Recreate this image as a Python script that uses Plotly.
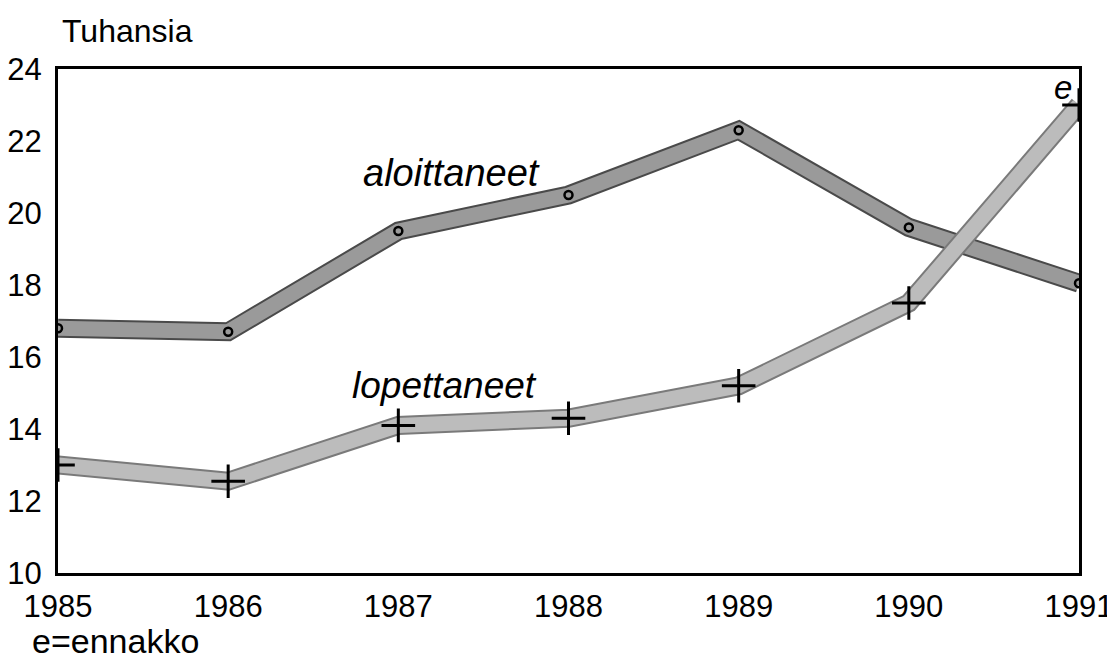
import plotly.graph_objects as go

years = [1985, 1986, 1987, 1988, 1989, 1990, 1991]
aloittaneet = [16.8, 16.7, 19.5, 20.5, 22.3, 19.6, 18.05]
lopettaneet = [13.0, 12.55, 14.1, 14.3, 15.2, 17.5, 23.0]
y_ticks = [10, 12, 14, 16, 18, 20, 22, 24]

FONT = "Liberation Sans, Arial, sans-serif"

fig = go.Figure()

# aloittaneet band
fig.add_trace(go.Scatter(x=years, y=aloittaneet, mode="lines",
                         line=dict(color="#4a4a4a", width=19), hoverinfo="skip"))
fig.add_trace(go.Scatter(x=years, y=aloittaneet, mode="lines",
                         line=dict(color="#9a9a9a", width=15), hoverinfo="skip"))
fig.add_trace(go.Scatter(x=years, y=aloittaneet, mode="markers",
                         marker=dict(symbol="circle-open", size=8, color="black",
                                     line=dict(width=2.5, color="black"))))

# lopettaneet band
fig.add_trace(go.Scatter(x=years, y=lopettaneet, mode="lines",
                         line=dict(color="#7a7a7a", width=19), hoverinfo="skip"))
fig.add_trace(go.Scatter(x=years, y=lopettaneet, mode="lines",
                         line=dict(color="#bcbcbc", width=15), hoverinfo="skip"))
fig.add_trace(go.Scatter(x=years, y=lopettaneet, mode="markers",
                         marker=dict(symbol="cross-thin", size=24, color="black",
                                     line=dict(width=3, color="black"))))

annos = [
    dict(x=1987.31, y=21.1, xref="x", yref="y", text="<i>aloittaneet</i>",
         font=dict(size=38, family=FONT, color="black"), showarrow=False),
    dict(x=1987.27, y=15.2, xref="x", yref="y", text="<i>lopettaneet</i>",
         font=dict(size=37, family=FONT, color="black"), showarrow=False),
    dict(x=1990.97, y=23.5, xref="x", yref="y", text="<i>e</i>", xanchor="right",
         font=dict(size=33, family=FONT, color="black"), showarrow=False),
    dict(x=0.002, y=1.075, xref="paper", yref="paper", text="Tuhansia",
         xanchor="left", yanchor="middle",
         font=dict(size=32, family=FONT, color="black"), showarrow=False),
    dict(x=-0.027, y=-0.135, xref="paper", yref="paper", text="e=ennakko",
         xanchor="left", yanchor="middle",
         font=dict(size=34, family=FONT, color="black"), showarrow=False),
]

fig.update_layout(
    width=1115, height=658,
    margin=dict(l=50, r=44, t=61, b=93),
    paper_bgcolor="white", plot_bgcolor="white",
    showlegend=False,
    annotations=annos,
    font=dict(family=FONT, size=31, color="black"),
)
fig.update_xaxes(range=[1985, 1991], tickvals=years, ticktext=[str(y) for y in years],
                 showgrid=False, zeroline=False, showline=True, linecolor="black",
                 linewidth=3, mirror=True, ticks="", ticklabelstandoff=4,
                 automargin=False,
                 tickfont=dict(size=31, family=FONT, color="black"))
fig.update_yaxes(range=[10, 24], tickvals=y_ticks,
                 showgrid=False, zeroline=False, showline=True, linecolor="black",
                 linewidth=3, mirror=True, ticks="", ticklabelstandoff=7,
                 automargin=False,
                 tickfont=dict(size=31, family=FONT, color="black"))

fig.write_html("out.html")
